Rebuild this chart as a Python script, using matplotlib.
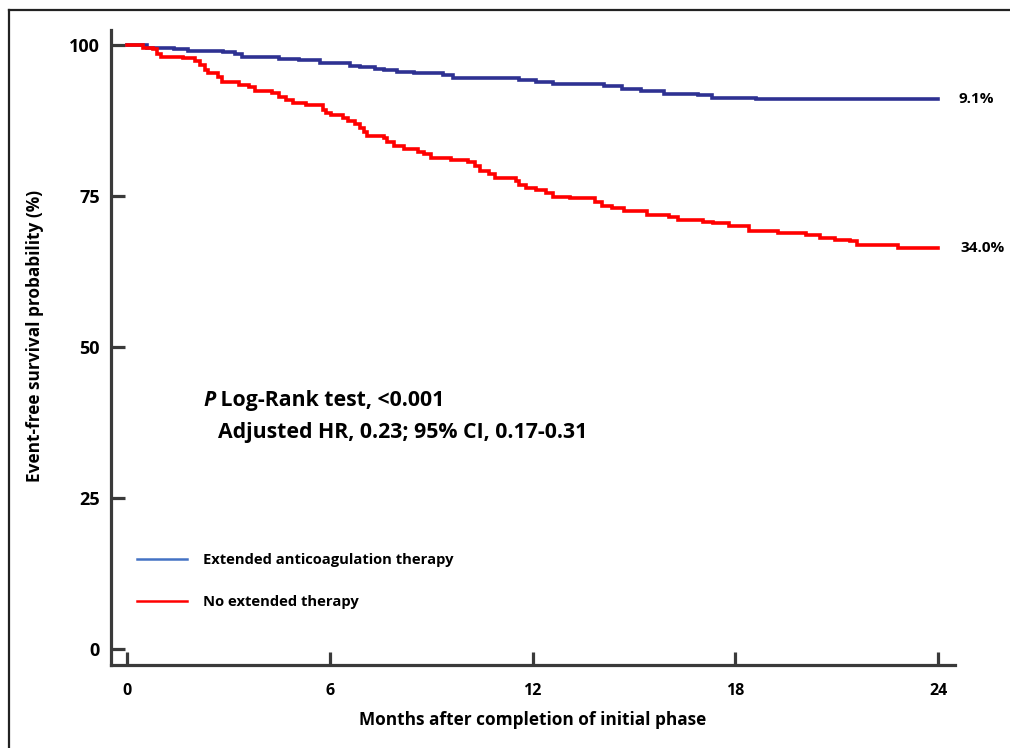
import matplotlib.pyplot as plt
from matplotlib.lines import Line2D

plt.rcParams['font.family'] = ['Open Sans', 'DejaVu Sans']
plt.rcParams['font.weight'] = 'bold'

# step curves (months, event-free %)
ext_t = [0, 0.6, 1.4, 1.8, 2.85, 3.2, 3.4, 4.5, 5.1, 5.7, 6.6, 6.9, 7.35, 7.6, 8.0, 8.5,
         9.35, 9.65, 11.6, 12.1, 12.6, 14.1, 14.65, 15.2, 15.9, 16.9, 17.3, 18.6, 24]
ext_s = [100, 99.6, 99.3, 99.05, 98.8, 98.45, 97.95, 97.7, 97.45, 97.0, 96.5, 96.3, 96.0, 95.8,
         95.6, 95.3, 95.1, 94.6, 94.3, 93.9, 93.5, 93.2, 92.7, 92.4, 91.9, 91.7, 91.3, 91.0, 91.0]

no_t = [0, 0.47, 0.77, 0.9, 1.0, 1.65, 2.0, 2.15, 2.3, 2.4, 2.7, 2.8, 3.3, 3.6, 3.8, 4.3, 4.5,
        4.7, 4.9, 5.3, 5.8, 5.9, 6.05, 6.4, 6.55, 6.75, 6.9, 7.0, 7.1, 7.6, 7.7, 7.9, 8.2, 8.6,
        8.8, 9.0, 9.6, 10.1, 10.3, 10.45, 10.7, 10.9, 11.5, 11.6, 11.8, 12.1, 12.4, 12.6, 13.1,
        13.85, 14.05, 14.35, 14.7, 15.4, 16.05, 16.3, 17.05, 17.35, 17.8, 18.4, 19.25, 20.1,
        20.5, 20.95, 21.4, 21.6, 22.8, 24]
no_s = [100, 99.6, 99.3, 98.6, 98.05, 97.8, 97.4, 96.7, 95.9, 95.3, 94.75, 93.9, 93.4, 93.1,
        92.4, 92.0, 91.4, 90.9, 90.35, 90.1, 89.2, 88.7, 88.4, 88.0, 87.4, 86.9, 86.2, 85.6,
        85.0, 84.55, 84.0, 83.3, 82.8, 82.3, 82.0, 81.35, 80.95, 80.6, 80.0, 79.1, 78.6, 78.0,
        77.5, 76.8, 76.3, 76.0, 75.45, 74.9, 74.6, 74.1, 73.4, 73.1, 72.6, 71.85, 71.5, 71.0,
        70.75, 70.5, 70.0, 69.25, 68.9, 68.6, 68.1, 67.8, 67.5, 66.9, 66.45, 66.45]

end_labels = ['9.1%', '34.0%']
group_names = ['Extended anticoagulation therapy', 'No extended therapy']
xticks = [0, 6, 12, 18, 24]
yticks = [0, 25, 50, 75, 100]

navy = '#2e3192'
red = '#ff0000'
spine = '#3a3a3a'

fig = plt.figure(figsize=(10.1, 7.48), dpi=100)
ax = fig.add_axes([111/1010, 1-665/748, 844/1010, 635/748])

ax.step(ext_t, ext_s, where='post', color=navy, lw=2.6, solid_joinstyle='miter')
ax.step(no_t, no_s, where='post', color=red, lw=2.6, solid_joinstyle='miter')

ax.set_xlim(-0.473, 24.5)
ax.set_ylim(-2.65, 102.5)
ax.set_xticks(xticks)
ax.set_yticks(yticks)
ax.spines[['top', 'right']].set_visible(False)
for s in ['left', 'bottom']:
    ax.spines[s].set_linewidth(2.3)
    ax.spines[s].set_color(spine)
ax.tick_params(axis='y', direction='in', length=10, width=2.3, color=spine,
               labelsize=13, pad=8)
ax.tick_params(axis='x', direction='in', length=9.5, width=2.3, color=spine,
               labelsize=11.5, pad=13)

ax.set_xlabel('Months after completion of initial phase', fontsize=12.4, fontweight='bold')
ax.xaxis.set_label_coords((533-111)/844, (665-711)/635)
ax.set_ylabel('Event-free survival probability (%)', fontsize=12.4, fontweight='bold')
ax.yaxis.set_label_coords((44-111)/844, (665-336)/635)

# end-of-curve percentages
ax.text(24.6, ext_s[-1], end_labels[0], fontsize=11, va='center', ha='left', clip_on=False)
ax.text(24.65, no_s[-1], end_labels[1], fontsize=11, va='center', ha='left', clip_on=False)

# test statistics
p = ax.text(2.25, 41.2, 'P', fontsize=15.3, style='italic', va='center', ha='left')
ax.annotate(' Log-Rank test, <0.001', xy=(1, 0), xycoords=p, fontsize=15.3,
            va='bottom', ha='left')
ax.text(2.7, 35.9, 'Adjusted HR, 0.23; 95% CI, 0.17-0.31', fontsize=15.3,
        va='center', ha='left')

handles = [Line2D([], [], color='#4472c4', lw=1.8), Line2D([], [], color=red, lw=1.8)]
ax.legend(handles, group_names, loc='upper left', frameon=False, fontsize=10.6,
          bbox_to_anchor=(137/1010, 1-553/748), bbox_transform=fig.transFigure,
          borderpad=0, borderaxespad=0, handlelength=3.4, handletextpad=1.1,
          labelspacing=1.88)

# partial frame around the picture
fig.add_artist(Line2D([9/1010, 9/1010], [0, 1-10/748], color='#222222', lw=1.6))
fig.add_artist(Line2D([9/1010, 1], [1-10/748, 1-10/748], color='#222222', lw=1.6))

fig.savefig('out.png', dpi=100)
